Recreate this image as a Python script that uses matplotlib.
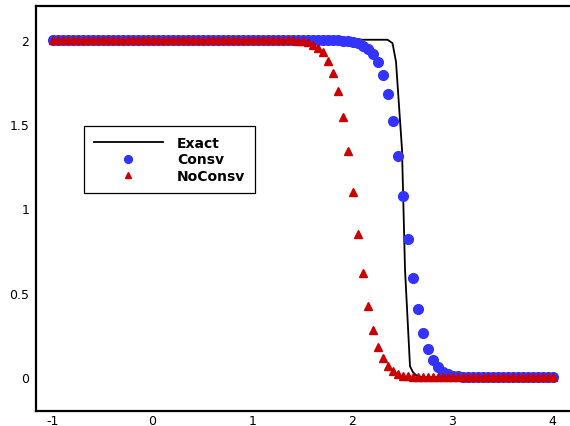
# plot.py
# Step profile: exact solution vs conservative / non-conservative schemes.
import numpy as np
import matplotlib
matplotlib.use("Agg")
import matplotlib.pyplot as plt

plt.rcParams["font.family"] = ["DejaVu Sans"]

# grid for the numerical solutions (x = -1 .. 4, step 0.05)
x_grid = np.linspace(-1.0, 4.0, 101)

# conservative scheme: plateau 2 up to x=1.7, transition 1.75..3.15, then 0
consv = ([2.0] * 55 +
         [1.999, 1.998, 1.997, 1.995, 1.992, 1.987, 1.978, 1.965, 1.945, 1.917,
          1.869, 1.792, 1.680, 1.519, 1.312, 1.074, 0.819, 0.588, 0.404, 0.261,
          0.166, 0.101, 0.059, 0.033, 0.018, 0.009, 0.005, 0.002, 0.001] +
         [0.0] * 17)

# non-conservative scheme: plateau 2 up to x=1.25, transition 1.3..2.65, then 0
noconsv = ([2.0] * 46 +
           [1.999, 1.998, 1.997, 1.995, 1.992, 1.985, 1.970, 1.953, 1.929, 1.875,
            1.804, 1.697, 1.543, 1.341, 1.098, 0.849, 0.617, 0.421, 0.279, 0.178,
            0.113, 0.065, 0.036, 0.020, 0.010, 0.005, 0.002, 0.001] +
           [0.0] * 27)

# exact solution
exact_x = [-1.0, 2.35, 2.40, 2.435, 2.495, 2.525, 2.575, 2.605, 2.635, 2.70, 4.0]
exact_y = [2.0, 2.0, 1.98, 1.87, 1.35, 0.64, 0.065, 0.03, 0.012, 0.0, 0.0]

xticks = [-1, 0, 1, 2, 3, 4]
yticks = [0, 0.5, 1, 1.5, 2]
ytick_labels = ["0", "0.5", "1", "1.5", "2"]

fig = plt.figure(figsize=(5.7, 4.27), dpi=100)
ax = fig.add_axes([36 / 570, 1 - 412 / 427, 1 - 36 / 570, 405 / 427])

ax.plot(exact_x, exact_y, color="black", lw=1.3, label="Exact", zorder=2)
ax.plot(x_grid, consv, ls="none", marker="o", ms=7, color="#3333ff",
        mec="#3333ff", label="Consv", zorder=3)
ax.plot(x_grid, noconsv, ls="none", marker="^", ms=6, color="#cc0000",
        mec="#cc0000", label="NoConsv", zorder=4)

ax.set_xlim(-1.165, 4.175)
ax.set_ylim(-0.2, 2.2)
ax.set_xticks(xticks)
ax.set_xticklabels([str(t) for t in xticks])
ax.set_yticks(yticks)
ax.set_yticklabels(ytick_labels)
ax.tick_params(length=0, labelsize=9)
ax.tick_params(axis="y", pad=5)
ax.tick_params(axis="x", pad=2)

for side in ("left", "bottom", "top"):
    ax.spines[side].set_linewidth(1.6)
ax.spines["right"].set_visible(False)

leg = ax.legend(loc="upper left", bbox_to_anchor=(84 / 570, 1 - 127 / 427),
                bbox_transform=fig.transFigure, borderaxespad=0,
                fancybox=False, edgecolor="black", framealpha=1,
                handlelength=5.0, handletextpad=1.0, labelspacing=0.2,
                borderpad=0.7, markerscale=0.8,
                prop={"weight": "bold", "size": 10})
leg.get_frame().set_linewidth(0.9)

fig.savefig("out.png", dpi=100)
